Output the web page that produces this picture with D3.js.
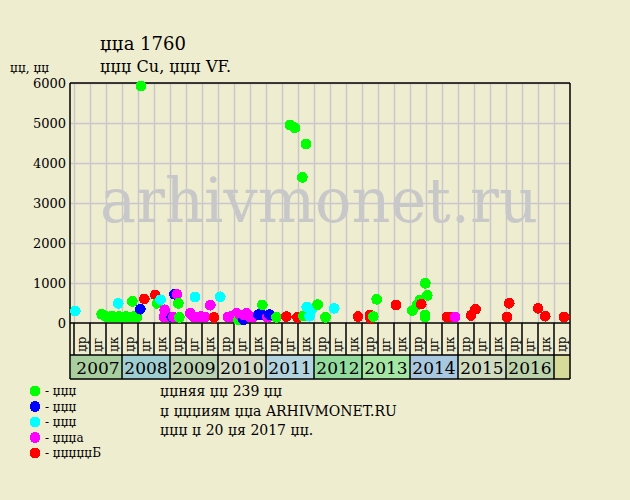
<!DOCTYPE html>
<html><head><meta charset="utf-8">
<script src="https://cdn.jsdelivr.net/npm/d3@7"></script>
<style>
html,body{margin:0;padding:0;background:#efedd0;}
svg{display:block;font-family:"DejaVu Serif",serif;}
</style></head>
<body><svg id="c" width="630" height="500"></svg>
<script>
// ---- data ----
const titleLine1 = "џџа 1760";
const titleLine2 = "џџџ Cu, џџџ VF.";
const yUnit = "џџ, џџ";
const yTicks = [0, 1000, 2000, 3000, 4000, 5000, 6000];
const years = [2007, 2008, 2009, 2010, 2011, 2012, 2013, 2014, 2015, 2016, 2017];
const yearColors = ["#a9cea0", "#9fcfd3", "#bdd4b4", "#d3dbc4", "#b3d3de", "#93da9f", "#a6e6a4", "#a9c8df", "#d1dbc0", "#bcd3ab", "#d5db98"];
const periodLabels = ["џр", "џг", "џк"];
const seriesNames = ["- џџџ", "- џџџ", "- џџџ", "- џџџа", "- џџџџџБ"];
const seriesColors = ["#00ff00", "#0000ff", "#00ffff", "#ff00ff", "#ff0000"];
const footer = ["џџняя џџ 239 џџ", "џ џџџиям џџа ARHIVMONET.RU", "џџџ џ 20 џя 2017 џџ."];
const watermark = "arhivmonet.ru";

// [date (decimal year), price]
const greenSales = [[2007.577,218],[2007.667,160],[2007.729,150],[2007.792,170],[2007.854,150],[2007.938,160],[2008.0,150],[2008.083,160],[2008.167,150],[2008.215,540],[2008.25,165],[2008.3125,150],[2008.40,5925],[2008.729,490],[2009.173,490],[2009.194,140],[2010.423,75],[2010.923,450],[2011.219,140],[2011.5,4950],[2011.604,4880],[2011.756,3640],[2011.777,175],[2011.833,4475],[2012.077,460],[2012.24,140],[2013.235,160],[2013.306,592],[2014.048,310],[2014.146,450],[2014.208,570],[2014.3125,200],[2014.313,150],[2014.319,992],[2014.36,690]];
const blueSales = [[2008.381,345],[2009.035,150],[2009.094,720],[2010.531,80],[2010.844,210],[2010.896,215],[2011.073,210]];
const cyanSales = [[2007.027,300],[2007.921,490],[2008.802,580],[2009.521,650],[2010.046,655],[2011.85,400],[2011.906,170],[2011.952,345],[2012.421,366]];
const magentaSales = [[2008.875,150],[2008.889,330],[2008.896,220],[2008.931,150],[2009.069,150],[2009.146,715],[2009.423,245],[2009.49,160],[2009.5625,150],[2009.646,165],[2009.729,150],[2009.84,445],[2010.208,150],[2010.271,160],[2010.39,240],[2010.458,200],[2010.542,200],[2010.598,240],[2010.667,150],[2010.729,150],[2011.031,145],[2014.9375,150]];
const redSales = [[2008.465,600],[2008.694,700],[2009.917,140],[2011.423,160],[2011.656,140],[2012.917,160],[2013.167,200],[2013.177,120],[2013.708,450],[2014.233,472],[2014.771,150],[2014.844,150],[2015.271,190],[2015.365,345],[2016.025,150],[2016.067,492],[2016.667,366],[2016.817,170],[2017.213,150]];

// ---- layout ----
const svg = d3.select("#c");
const L = 70, R = 570, T = 83, B = 323;
const x = d3.scaleLinear().domain([2007, 2017 + 1/3]).range([74, R]);
const y = d3.scaleLinear().domain([0, 6000]).range([B, T]);
const rowTop = B, rowMid = 355, rowBot = 379;

svg.append("rect").attr("width", 630).attr("height", 500).attr("fill", "#efedd0");

// watermark
svg.append("text").attr("x", 100).attr("y", 222).attr("font-size", 62)
  .attr("textLength", 438).attr("lengthAdjust", "spacingAndGlyphs")
  .attr("fill", "#c8c8c8").text(watermark);

// grid
const boundaries = d3.range(0, 31).map(i => 2007 + i / 3);
svg.append("g").selectAll("line").data(boundaries).join("line")
  .attr("x1", d => Math.round(x(d)) + 0.5).attr("x2", d => Math.round(x(d)) + 0.5)
  .attr("y1", T).attr("y2", B).attr("stroke", "#c8c8cc").attr("stroke-width", 1.5);
svg.append("g").selectAll("line").data(yTicks.slice(1)).join("line")
  .attr("x1", L).attr("x2", R).attr("y1", d => Math.round(y(d)) + 0.5).attr("y2", d => Math.round(y(d)) + 0.5)
  .attr("stroke", "#c8c8cc").attr("stroke-width", 1.5);

// y axis labels
const yAxis = svg.append("g").attr("transform", `translate(${L},0)`)
  .call(d3.axisLeft(y).tickValues(yTicks).tickSize(0).tickPadding(4).tickFormat(d3.format("d")));
yAxis.select(".domain").remove();
yAxis.selectAll("text").attr("font-family", "DejaVu Serif").attr("font-size", 13).attr("fill", "#000");

// year cells
svg.append("g").selectAll("rect").data(years).join("rect")
  .attr("x", (d, i) => i === 0 ? L : x(d))
  .attr("y", rowMid)
  .attr("width", (d, i) => Math.min(x(d + 1), R) - (i === 0 ? L : x(d)))
  .attr("height", rowBot - rowMid)
  .attr("fill", (d, i) => yearColors[i]);
svg.append("g").selectAll("text").data(years.filter(d => x(d + 1) <= R + 1)).join("text")
  .attr("x", d => x(d) + 24 - (d === 2007 ? 0 : 0)).attr("y", rowBot - 5)
  .attr("text-anchor", "middle").attr("font-size", 17).text(d => d);

// period labels
const periods = d3.range(0, 31).map(i => ({t: 2007 + i / 3 + 1/6, lab: periodLabels[i % 3]}));
svg.append("g").selectAll("text").data(periods).join("text")
  .attr("transform", d => `translate(${x(d.t) + 4},${rowMid - 3}) rotate(-90)`)
  .attr("font-size", 12).text(d => d.lab);

// frame lines
const frame = svg.append("g").attr("stroke", "#000").attr("stroke-width", 1.5).attr("fill", "none");
frame.append("line").attr("x1", L).attr("x2", R).attr("y1", T).attr("y2", T);
frame.append("line").attr("x1", L).attr("x2", L).attr("y1", T).attr("y2", rowBot);
frame.append("line").attr("x1", R).attr("x2", R).attr("y1", T).attr("y2", rowBot);
frame.append("line").attr("x1", L).attr("x2", R).attr("y1", B).attr("y2", B);
frame.append("line").attr("x1", L).attr("x2", R).attr("y1", rowMid).attr("y2", rowMid);
frame.append("line").attr("x1", L).attr("x2", R).attr("y1", rowBot).attr("y2", rowBot);
frame.selectAll("line.div").data(boundaries.slice(0)).join("line").attr("class", "div")
  .attr("x1", d => x(d)).attr("x2", d => x(d)).attr("y1", B).attr("y2", rowMid);
frame.selectAll("line.ydiv").data(years.slice(1)).join("line").attr("class", "ydiv")
  .attr("x1", d => x(d)).attr("x2", d => x(d)).attr("y1", rowMid).attr("y2", rowBot);

// points (chronological)
const allSales = [greenSales, blueSales, cyanSales, magentaSales, redSales]
  .flatMap((s, si) => s.map(p => ({t: p[0], v: p[1], c: seriesColors[si]})))
  .sort((a, b) => a.t - b.t);
svg.append("g").selectAll("circle").data(allSales).join("circle")
  .attr("cx", d => x(d.t)).attr("cy", d => y(d.v)).attr("r", 5.4)
  .attr("fill", d => d.c).attr("shape-rendering", "crispEdges");

// titles
svg.append("text").attr("x", 100).attr("y", 50).attr("font-size", 18).text(titleLine1);
svg.append("text").attr("x", 100).attr("y", 72).attr("font-size", 16).text(titleLine2);
svg.append("text").attr("x", 10).attr("y", 72).attr("font-size", 12).text(yUnit);

// legend
const leg = svg.append("g").selectAll("g").data(seriesNames).join("g")
  .attr("transform", (d, i) => `translate(35,${391 + i * 15.5})`);
leg.append("circle").attr("r", 5.4).attr("fill", (d, i) => seriesColors[i]).attr("shape-rendering", "crispEdges");
leg.append("text").attr("x", 10).attr("y", 4).attr("font-size", 12).text(d => d);

// footer
svg.append("g").selectAll("text").data(footer).join("text")
  .attr("x", 160).attr("y", (d, i) => 396 + i * 19.5).attr("font-size", 14).text(d => d);
</script></body></html>
